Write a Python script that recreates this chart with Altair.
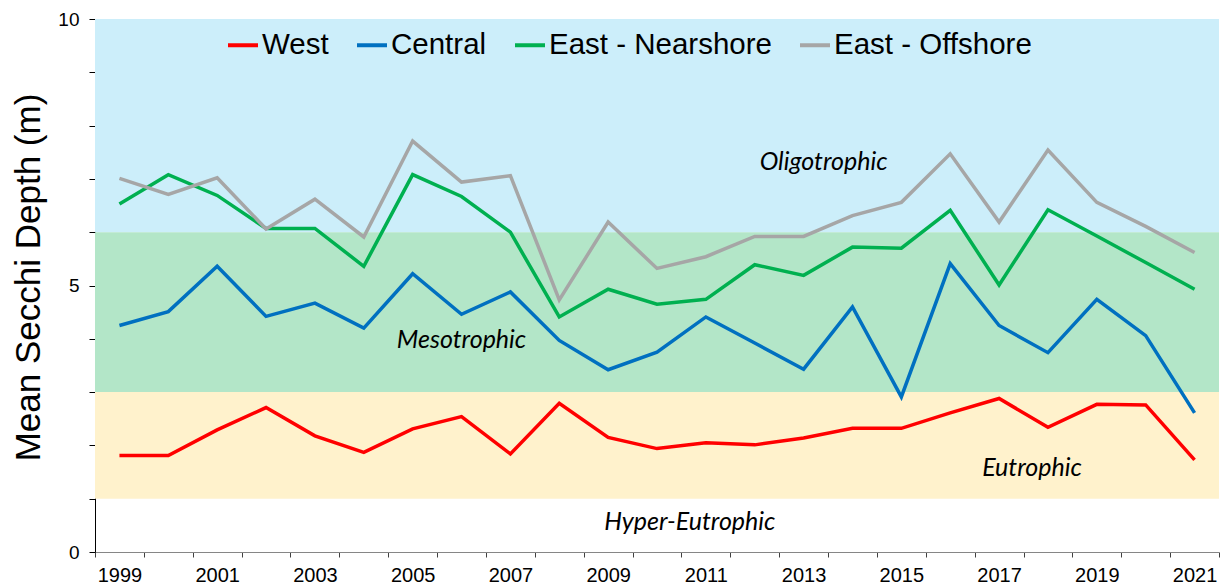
import altair as alt
import pandas as pd

years = list(range(1999, 2022))
west = [1.81, 1.81, 2.29, 2.71, 2.18, 1.87, 2.31, 2.54, 1.84, 2.79, 2.15, 1.94,
        2.05, 2.01, 2.14, 2.32, 2.32, 2.61, 2.88, 2.34, 2.77, 2.76, 1.73]
central = [4.25, 4.51, 5.36, 4.42, 4.67, 4.20, 5.22, 4.46, 4.88, 3.97, 3.42, 3.75,
           4.41, 3.92, 3.43, 4.60, 2.91, 5.41, 4.25, 3.74, 4.74, 4.06, 2.61]
east_near = [6.53, 7.08, 6.69, 6.07, 6.07, 5.36, 7.08, 6.67, 6.00, 4.41, 4.93, 4.65,
             4.74, 5.39, 5.19, 5.72, 5.70, 6.41, 5.01, 6.42, 5.93, 5.43, 4.93]
east_off = [7.01, 6.71, 7.02, 6.06, 6.62, 5.91, 7.71, 6.94, 7.06, 4.73, 6.19, 5.32,
            5.54, 5.92, 5.92, 6.31, 6.56, 7.47, 6.19, 7.54, 6.56, 6.11, 5.62]

series_names = ["West", "Central", "East - Nearshore", "East - Offshore"]
series_colors = ["#FF0000", "#0070C0", "#00B050", "#A6A6A6"]

zone_low = [6, 3, 1]
zone_high = [10, 6, 3]
zone_fill = ["#CCEEFA", "#B3E6C8", "#FFF2CC"]

zone_names = ["Oligotrophic", "Mesotrophic", "Eutrophic", "Hyper-Eutrophic"]
zone_year = [2013, 2006, 2018, 2011]
zone_value = [7.32, 3.98, 1.57, 0.57]
zone_dx = [20, 0, -16, -16]

rows = []
for name, vals in zip(series_names, [west, central, east_near, east_off]):
    for i, (yr, v) in enumerate(zip(years, vals)):
        rows.append({"year": yr, "value": v, "series": name, "order": i})
df_lines = pd.DataFrame(rows)
df_zones = pd.DataFrame({"value": zone_low, "value2": zone_high, "fill": zone_fill})

X = alt.X(
    "year:O",
    scale=alt.Scale(type="band", paddingInner=0, paddingOuter=0, domain=years),
    bandPosition=0.5,
    title=None,
    axis=alt.Axis(
        labelExpr="datum.value % 2 == 1 ? datum.label : ''",
        labelAngle=0,
        tickBand="extent",
        tickSize=5,
        labelPadding=8,
        labelFontSize=20,
        labelFont="Liberation Sans",
        labelColor="black",
        domainColor="#868686",
        tickColor="#404040",
        labelOverlap=False,
        grid=False,
    ),
)

Y_AXIS = alt.Axis(
    values=list(range(11)),
    labelExpr="datum.value % 5 == 0 ? datum.label : ''",
    grid=False,
    tickSize=6,
    labelPadding=10,
    labelFontSize=19,
    labelFont="Liberation Sans",
    labelColor="black",
    domainColor="black",
    tickColor="black",
    titleFontSize=35,
    titleFont="Liberation Sans",
    titleFontWeight="normal",
    titleColor="black",
    titlePadding=11,
    titleY=258,
)
Y_SCALE = alt.Scale(domain=[0, 10], nice=False, zero=True)
Y_TITLE = "Mean Secchi Depth (m)"

zones = alt.Chart(df_zones).mark_rect().encode(
    y=alt.Y("value:Q", scale=Y_SCALE, axis=Y_AXIS, title=Y_TITLE),
    y2="value2:Q",
    fill=alt.Fill("fill:N", scale=None, legend=None),
)

lines = alt.Chart(df_lines).mark_line(strokeWidth=3.5).encode(
    x=X,
    y=alt.Y("value:Q", scale=Y_SCALE, axis=Y_AXIS, title=Y_TITLE),
    color=alt.Color(
        "series:N",
        scale=alt.Scale(domain=series_names, range=series_colors),
        sort=series_names,
        legend=alt.Legend(
            title=None,
            orient="none",
            direction="horizontal",
            legendX=131,
            legendY=9,
            labelFontSize=29.5,
            labelFont="Liberation Sans",
            labelColor="black",
            labelLimit=0,
            symbolType="stroke",
            symbolSize=900,
            symbolStrokeWidth=4,
            columnPadding=20,
            labelOffset=2,
        ),
    ),
    order="order:Q",
)

layers = [zones, lines]
for name, yr, val, dx in zip(zone_names, zone_year, zone_value, zone_dx):
    d = pd.DataFrame({"year": [yr], "value": [val], "label": [name]})
    layers.append(
        alt.Chart(d).mark_text(
            font="Lato", fontStyle="italic", fontSize=25, color="black",
            align="center", baseline="middle", dx=dx,
        ).encode(
            x=X,
            y=alt.Y("value:Q", scale=Y_SCALE, axis=Y_AXIS, title=Y_TITLE),
            text="label:N",
        )
    )

chart = alt.layer(*layers).properties(
    width=1124,
    height=533,
    autosize=alt.AutoSizeParams(type="none"),
    padding={"left": 87, "top": 11, "right": 4, "bottom": 36},
).configure_view(stroke=None)

chart.save("out.html", embed_options={"renderer": "svg", "actions": False})
